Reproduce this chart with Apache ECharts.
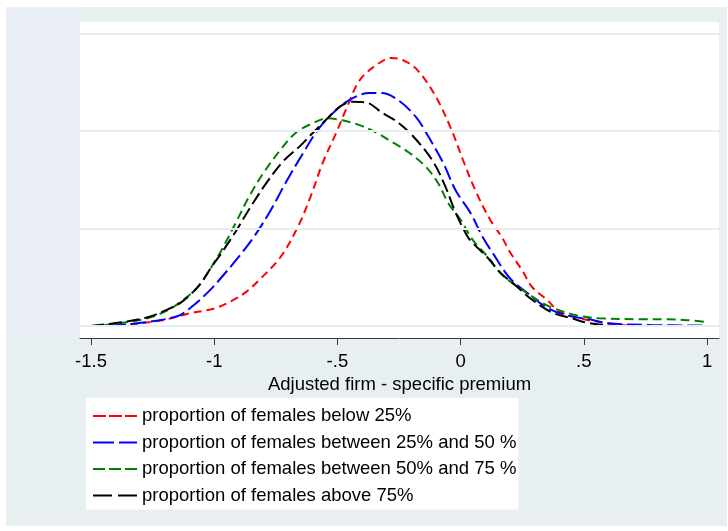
<!DOCTYPE html>
<html>
<head>
<meta charset="utf-8">
<script src="https://cdn.jsdelivr.net/npm/echarts@6/dist/echarts.min.js"></script>
<style>
  html, body { margin: 0; padding: 0; background: #ffffff; }
  #chart { width: 728px; height: 531px; }
</style>
</head>
<body>
<div id="chart"></div>
<script>
// Kernel density estimates of the adjusted firm-specific premium by female share
const seriesNames = [
  'proportion of females below 25%',
  'proportion of females between 25% and 50 %',
  'proportion of females between 50% and 75 %',
  'proportion of females above 75%'
];

const below25 = [
  [-1.50, 0.00], [-1.38, 0.01], [-1.21, 0.06], [-1.10, 0.13], [-1.00, 0.18],
  [-0.92, 0.27], [-0.87, 0.35], [-0.81, 0.49], [-0.73, 0.71], [-0.66, 1.02],
  [-0.61, 1.32], [-0.56, 1.67], [-0.50, 2.01], [-0.46, 2.25], [-0.41, 2.52],
  [-0.34, 2.68], [-0.28, 2.75], [-0.22, 2.71], [-0.17, 2.61], [-0.10, 2.35],
  [-0.04, 2.03], [0.01, 1.70], [0.06, 1.39], [0.12, 1.09], [0.17, 0.90],
  [0.20, 0.76], [0.25, 0.57], [0.29, 0.40], [0.35, 0.27], [0.40, 0.15],
  [0.47, 0.09], [0.54, 0.05], [0.69, 0.005], [1.00, 0.00]
];

const between25and50 = [
  [-1.50, 0.00], [-1.34, 0.02], [-1.15, 0.10], [-1.09, 0.20], [-1.02, 0.36],
  [-0.97, 0.50], [-0.91, 0.68], [-0.84, 0.91], [-0.77, 1.19],
  [-0.71, 1.47], [-0.64, 1.77], [-0.58, 2.01], [-0.52, 2.18], [-0.45, 2.32],
  [-0.37, 2.39], [-0.32, 2.39], [-0.25, 2.31], [-0.18, 2.14], [-0.13, 1.94],
  [-0.07, 1.67], [-0.02, 1.39], [0.04, 1.16], [0.09, 0.91], [0.13, 0.75],
  [0.20, 0.49], [0.27, 0.34], [0.35, 0.19], [0.43, 0.11], [0.54, 0.06],
  [0.59, 0.03], [0.77, 0.01], [1.00, 0.005]
];

const between50and75 = [
  [-1.50, 0.00], [-1.41, 0.02], [-1.27, 0.08], [-1.19, 0.16], [-1.14, 0.24],
  [-1.07, 0.39], [-1.01, 0.61], [-0.97, 0.78], [-0.91, 1.07], [-0.86, 1.32],
  [-0.80, 1.57], [-0.73, 1.81], [-0.67, 1.98], [-0.60, 2.08], [-0.54, 2.13],
  [-0.48, 2.11], [-0.41, 2.06], [-0.34, 1.98], [-0.28, 1.89], [-0.21, 1.78],
  [-0.14, 1.63], [-0.09, 1.46], [-0.05, 1.26], [0.00, 1.09], [0.05, 0.88],
  [0.11, 0.71], [0.17, 0.52], [0.24, 0.39], [0.31, 0.27], [0.37, 0.19],
  [0.47, 0.11], [0.56, 0.08], [0.73, 0.07], [0.84, 0.07], [0.92, 0.06],
  [1.00, 0.04]
];

const above75 = [
  [-1.50, 0.00], [-1.40, 0.03], [-1.27, 0.09], [-1.18, 0.18], [-1.13, 0.25],
  [-1.06, 0.42], [-1.01, 0.61], [-0.97, 0.75], [-0.91, 0.98], [-0.86, 1.19],
  [-0.79, 1.46], [-0.72, 1.69], [-0.65, 1.85], [-0.60, 1.98], [-0.54, 2.13],
  [-0.49, 2.25], [-0.44, 2.30], [-0.38, 2.29], [-0.32, 2.19], [-0.25, 2.08],
  [-0.18, 1.91], [-0.11, 1.68], [-0.06, 1.42], [-0.02, 1.16], [0.03, 0.91],
  [0.05, 0.85], [0.11, 0.70], [0.16, 0.55], [0.23, 0.40], [0.29, 0.27],
  [0.37, 0.14], [0.45, 0.08], [0.52, 0.03], [0.66, 0.00], [1.00, 0.00]
];

const xTicks = [-1.5, -1, -0.5, 0, 0.5, 1];
const xTickLabels = ['-1.5', '-1', '-.5', '0', '.5', '1'];
const yGridValues = [0, 1, 2, 3];

const FONT = "'Liberation Sans', Arial, sans-serif";

// line look per series: colour, plot dash, legend-key dash
const lineLooks = [
  { color: '#ff0000', dash: [8, 5],  keyDash: [13, 3] },
  { color: '#0000ff', dash: [15, 5], keyDash: [21, 5] },
  { color: '#008000', dash: [9, 5],  keyDash: [12, 4] },
  { color: '#000000', dash: [13, 5], keyDash: [19, 6] }
];
const seriesData = [below25, between25and50, between50and75, above75];

const chart = echarts.init(document.getElementById('chart'), null, { renderer: 'canvas' });

const densitySeries = seriesNames.map((name, i) => ({
  name: name,
  type: 'line',
  data: seriesData[i],
  smooth: 0.35,
  symbol: 'none',
  z: 3,
  lineStyle: { color: lineLooks[i].color, width: 2, type: lineLooks[i].dash },
  itemStyle: { color: lineLooks[i].color }
}));

// horizontal reference lines at the y ticks (drawn underneath the curves)
const gridLineSeries = {
  name: 'gridlines',
  type: 'line',
  data: [],
  silent: true,
  z: 1,
  markLine: {
    silent: true,
    symbol: 'none',
    label: { show: false },
    animation: false,
    lineStyle: { color: '#e6eef1', width: 2, type: 'solid' },
    data: yGridValues.map(v => ({ yAxis: v }))
  }
};

const option = {
  animation: false,
  backgroundColor: '#ffffff',
  graphic: [
    { type: 'rect', z: -10, silent: true, shape: { x: 6, y: 7, width: 721, height: 519 },
      style: { fill: '#e7eff1' } },
    { type: 'rect', z: -9, silent: true, shape: { x: 6, y: 7, width: 74, height: 331 },
      style: { fill: '#eaeef7' } }
  ],
  grid: {
    left: 80, right: 9, top: 22, bottom: 193,
    show: true, backgroundColor: '#ffffff', borderWidth: 0,
    containLabel: false
  },
  xAxis: {
    type: 'value',
    min: -1.5446,
    max: 1.0486,
    axisLine: { show: true, onZero: false, lineStyle: { color: '#3a3a3a', width: 1 } },
    axisTick: { show: true, customValues: xTicks, length: 7, lineStyle: { color: '#3a3a3a', width: 1 } },
    axisLabel: {
      customValues: xTicks,
      formatter: v => {
        const k = xTicks.findIndex(t => Math.abs(t - v) < 1e-9);
        return k >= 0 ? xTickLabels[k] : '';
      },
      color: '#000', fontSize: 18.5, fontFamily: FONT, margin: 14
    },
    splitLine: { show: false },
    name: 'Adjusted firm - specific premium',
    nameLocation: 'middle',
    nameGap: 29,
    nameTextStyle: { color: '#000', fontSize: 18.5, fontFamily: FONT }
  },
  yAxis: {
    type: 'value',
    min: -0.123,
    max: 3.118,
    show: false
  },
  legend: {
    orient: 'vertical',
    left: 86,
    top: 398,
    padding: [8.5, 2, 4.5, 6],
    itemGap: 7.5,
    itemWidth: 44,
    itemHeight: 14,
    backgroundColor: '#ffffff',
    borderWidth: 0,
    selectedMode: false,
    textStyle: { color: '#000', fontSize: 18.5, fontFamily: FONT },
    data: seriesNames.map((n, i) => ({
      name: n,
      itemStyle: { opacity: 0 },
      lineStyle: { type: lineLooks[i].keyDash, width: 2, color: lineLooks[i].color, opacity: 1 }
    }))
  },
  series: [gridLineSeries].concat(densitySeries)
};

chart.setOption(option);
</script>
</body>
</html>
